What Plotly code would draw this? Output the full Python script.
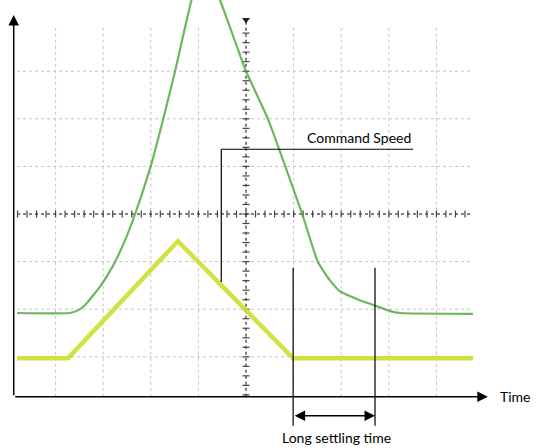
import plotly.graph_objects as go
import numpy as np

# traces, in scope divisions (centre crosshair = 0,0)
green_t = [-4.81, -3.70, -3.52, -3.38, -3.07, -2.80, -2.54, -2.33, -2.00, -1.74, -1.49, -0.90,
           0.00, 0.46, 1.18, 1.51, 1.76, 1.97, 2.39, 2.67, 3.03, 3.24, 4.77]
green_v = [-2.08, -2.08, -2.02, -1.91, -1.53, -1.10, -0.55, 0.00, 1.01, 1.99, 3.00, 5.29,
           3.00, 2.00, 0.00, -1.01, -1.39, -1.62, -1.81, -1.91, -2.04, -2.08, -2.10]
yellow_t = [-4.81, -3.74, -1.43, 0.99, 4.77]
yellow_v = [-3.03, -3.03, -0.57, -3.03, -3.03]

grid_t = [-4, -3, -2, -1, 1, 2, 3, 4]
grid_v = [-3, -2, -1, 1, 2, 3]

X0, X1 = -4.81, 4.77   # grid left/right
Y0, Y1 = -3.84, 3.91   # grid bottom/top
FONT = "Lato, Roboto, sans-serif"

fig = go.Figure()

shapes = []
for t in grid_t:
    shapes.append(dict(type="line", x0=t, x1=t, y0=Y0, y1=Y1,
                       line=dict(color="#c4c4c4", width=1, dash="dot"), layer="below"))
for v in grid_v:
    shapes.append(dict(type="line", x0=X0, x1=X1, y0=v, y1=v,
                       line=dict(color="#c4c4c4", width=1, dash="dot"), layer="below"))
# centre crosshair
shapes.append(dict(type="line", x0=X0, x1=X1, y0=0, y1=0,
                   line=dict(color="#555", width=1.5, dash="dot"), layer="below"))
shapes.append(dict(type="line", x0=0, x1=0, y0=Y0, y1=4.1,
                   line=dict(color="#555", width=1.5, dash="dot"), layer="below"))

ticks_h = np.arange(-4.8, 4.8, 0.2)
ticks_v = np.arange(-3.8, 4.0, 0.2)
fig.add_trace(go.Scatter(x=ticks_h, y=[0] * len(ticks_h), mode="markers",
                         marker=dict(symbol="line-ns", size=5, line=dict(color="#444", width=1.2)),
                         hoverinfo="skip"))
fig.add_trace(go.Scatter(x=[0] * len(ticks_v), y=ticks_v, mode="markers",
                         marker=dict(symbol="line-ew", size=5, line=dict(color="#444", width=1.2)),
                         hoverinfo="skip"))
# trigger marker
fig.add_trace(go.Scatter(x=[0], y=[4.08], mode="markers",
                         marker=dict(symbol="triangle-down", size=7, color="#222"), hoverinfo="skip"))

fig.add_trace(go.Scatter(x=green_t, y=green_v, mode="lines", line_shape="spline",
                         line=dict(color="#55aa44", width=2.2, smoothing=0.4), opacity=0.85))
fig.add_trace(go.Scatter(x=yellow_t, y=yellow_v, mode="lines",
                         line=dict(color="#cddf2e", width=4.5), opacity=0.9))

# command speed callout
shapes.append(dict(type="line", x0=-0.52, x1=-0.52, y0=-1.43, y1=1.36, line=dict(color="black", width=1.2)))
shapes.append(dict(type="line", x0=-0.52, x1=3.51, y0=1.36, y1=1.36, line=dict(color="black", width=1.2)))
# settling time markers
for t in [0.99, 2.71]:
    shapes.append(dict(type="line", x0=t, x1=t, y0=-1.13, y1=-4.45, line=dict(color="black", width=1.2)))

annotations = [
    dict(x=-4.88, y=4.18, ax=-4.88, ay=Y0, xref="x", yref="y", axref="x", ayref="y",
         showarrow=True, arrowhead=2, arrowsize=1.4, arrowwidth=1.5, arrowcolor="black", text=""),
    dict(x=5.08, y=Y0, ax=-4.88, ay=Y0, xref="x", yref="y", axref="x", ayref="y",
         showarrow=True, arrowhead=2, arrowsize=1.4, arrowwidth=1.5, arrowcolor="black", text=""),
    dict(x=2.71, y=-4.24, ax=0.99, ay=-4.24, xref="x", yref="y", axref="x", ayref="y",
         showarrow=True, arrowhead=2, arrowside="end+start", arrowsize=1.4, arrowwidth=1.5,
         arrowcolor="black", text=""),
    dict(x=3.51, y=1.36, xref="x", yref="y", text="Command Speed", showarrow=False,
         xanchor="right", yanchor="bottom", yshift=1, font=dict(family=FONT, size=14, color="black")),
    dict(x=5.3, y=Y0, xref="x", yref="y", text="Time", showarrow=False,
         xanchor="left", yanchor="middle", font=dict(family=FONT, size=14, color="black")),
    dict(x=1.9, y=-4.7, xref="x", yref="y", text="Long settling time", showarrow=False,
         xanchor="center", yanchor="middle", font=dict(family=FONT, size=14, color="black")),
]

fig.update_layout(
    width=540, height=448, margin=dict(l=0, r=0, t=0, b=0),
    paper_bgcolor="white", plot_bgcolor="white", showlegend=False,
    xaxis=dict(range=[-5.168, 6.176], visible=False, fixedrange=True),
    yaxis=dict(range=[-4.916, 4.496], visible=False, fixedrange=True),
    shapes=shapes, annotations=annotations,
)

fig.write_html("out.html", config={"displayModeBar": False},
               post_script="document.body.style.margin='0';document.body.style.padding='0';")
